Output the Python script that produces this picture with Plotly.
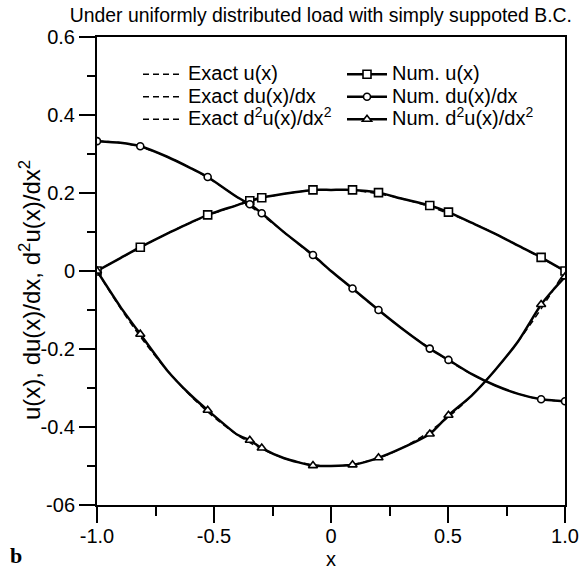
import plotly.graph_objects as go

# ---------------- data ----------------
# exact solution curves, sampled
x_exact = [-1.0, -0.9, -0.8, -0.7, -0.6, -0.5, -0.4, -0.3, -0.2, -0.1, 0.0,
           0.1, 0.2, 0.3, 0.4, 0.5, 0.6, 0.7, 0.8, 0.9, 1.0]
u_exact = [0.0, 0.033, 0.065, 0.096, 0.124, 0.148, 0.169, 0.186, 0.198, 0.206, 0.208,
           0.206, 0.198, 0.186, 0.169, 0.148, 0.124, 0.096, 0.065, 0.033, 0.0]
du_exact = [0.333, 0.329, 0.315, 0.293, 0.264, 0.229, 0.189, 0.146, 0.099, 0.050, 0.0,
            -0.050, -0.099, -0.146, -0.189, -0.229, -0.264, -0.293, -0.315, -0.329, -0.333]
d2u_exact = [0.0, -0.095, -0.180, -0.255, -0.320, -0.375, -0.420, -0.455, -0.480, -0.495, -0.500,
             -0.495, -0.480, -0.455, -0.420, -0.375, -0.320, -0.255, -0.180, -0.095, 0.0]

# numerical solution at the nodes (markers)
x_num = [-1.0, -0.815, -0.527, -0.347, -0.296, -0.077, 0.092, 0.203, 0.422, 0.502, 0.898, 1.0]
u_num = [0.0, 0.061, 0.144, 0.180, 0.188, 0.208, 0.208, 0.201, 0.168, 0.151, 0.035, 0.0]
du_num = [0.333, 0.320, 0.241, 0.171, 0.148, 0.041, -0.045, -0.100, -0.199, -0.228, -0.329, -0.334]
d2u_num = [0.0, -0.162, -0.357, -0.434, -0.454, -0.499, -0.497, -0.479, -0.418, -0.370, -0.086, -0.015]

# numerical curves as drawn (nodes plus intermediate points)
x_curve = [-1.0, -0.9, -0.815, -0.7, -0.6, -0.527, -0.4, -0.347, -0.296, -0.2, -0.077, 0.0,
           0.092, 0.203, 0.3, 0.422, 0.502, 0.6, 0.7, 0.8, 0.898, 0.95, 1.0]
u_curve = [0.0, 0.033, 0.061, 0.096, 0.124, 0.144, 0.169, 0.180, 0.188, 0.198, 0.208, 0.208,
           0.208, 0.201, 0.186, 0.168, 0.151, 0.124, 0.096, 0.065, 0.035, 0.017, 0.0]
du_curve = [0.333, 0.329, 0.320, 0.293, 0.264, 0.241, 0.189, 0.171, 0.148, 0.099, 0.041, 0.0,
            -0.045, -0.100, -0.146, -0.199, -0.228, -0.264, -0.293, -0.315, -0.329, -0.332, -0.334]
d2u_curve = [0.0, -0.092, -0.162, -0.255, -0.318, -0.357, -0.420, -0.434, -0.454, -0.480, -0.499, -0.500,
             -0.497, -0.479, -0.455, -0.418, -0.370, -0.320, -0.255, -0.180, -0.086, -0.048, -0.015]

y_tickvals = [0.6, 0.4, 0.2, 0.0, -0.2, -0.4, -0.6]
y_ticktext = ["0.6", "0.4", "0.2", "0", "-0.2", "-0.4", "-06"]
x_tickvals = [-1.0, -0.5, 0.0, 0.5, 1.0]
x_ticktext = ["-1.0", "-0.5", "0", "0.5", "1.0"]

title_text = "Under uniformly distributed load with simply suppoted B.C."
y_title = "u(x), du(x)/dx, d<sup>2</sup>u(x)/dx<sup>2</sup>"

# ---------------- figure ----------------
FONT = "Liberation Sans, Arial, Helvetica, sans-serif"
W, H = 579, 571
ML, MR, MT, MB = 97, 14, 37, 66


def lab(s):
    return '<span style="font-size:20px">' + s + '</span>'


fig = go.Figure()

exact_sets = [(u_exact, "Exact u(x)"), (du_exact, "Exact du(x)/dx"),
              (d2u_exact, "Exact d<sup>2</sup>u(x)/dx<sup>2</sup>")]
for ys, name in exact_sets:
    fig.add_trace(go.Scatter(
        x=x_exact, y=ys, mode="lines", name=lab(name), legend="legend",
        line=dict(color="black", width=1.5, dash="6px,4px", shape="spline"),
    ))

num_sets = [(u_curve, u_num, "Num. u(x)", "square", 8),
            (du_curve, du_num, "Num. du(x)/dx", "circle", 7),
            (d2u_curve, d2u_num, "Num. d<sup>2</sup>u(x)/dx<sup>2</sup>", "triangle-up", 8)]
for i, (yc, yn, name, sym, sz) in enumerate(num_sets):
    grp = "num%d" % i
    mk = dict(symbol=sym, size=sz, color="white", line=dict(width=1.6, color="black"))
    ln = dict(color="black", width=2.5)
    # solid curve
    fig.add_trace(go.Scatter(
        x=x_curve, y=yc, mode="lines", legend="legend2", legendgroup=grp,
        showlegend=False, line=dict(shape="spline", smoothing=0.6, **ln),
    ))
    # node markers
    fig.add_trace(go.Scatter(
        x=x_num, y=yn, mode="markers", legend="legend2", legendgroup=grp,
        showlegend=False, marker=mk,
    ))
    # legend entry (line + marker)
    fig.add_trace(go.Scatter(
        x=[None], y=[None], mode="lines+markers", name=lab(name), legend="legend2",
        legendgroup=grp, line=ln, marker=mk,
    ))

pw = W - ML - MR
ph = H - MT - MB


def px_x(p):
    return (p - ML) / pw


def px_y(p):
    return (H - MB - p) / ph


leg_common = dict(xanchor="left", yanchor="top", bgcolor="rgba(0,0,0,0)",
                  font=dict(size=15, family=FONT, color="black"),
                  itemwidth=40, tracegroupgap=0, borderwidth=0)

fig.update_layout(
    width=W, height=H,
    margin=dict(l=ML, r=MR, t=MT, b=MB, autoexpand=False),
    paper_bgcolor="white", plot_bgcolor="white",
    font=dict(family=FONT, color="black", size=20),
    title=dict(text=title_text, font=dict(size=19.4, family=FONT, color="black"),
               xref="container", x=572 / W, xanchor="right",
               yref="container", y=1 - 15 / H, yanchor="middle"),
    legend=dict(x=px_x(138), y=px_y(58), **leg_common),
    legend2=dict(x=px_x(342), y=px_y(58), **leg_common),
    xaxis=dict(range=[-1.0, 1.0], tickvals=x_tickvals, ticktext=x_ticktext,
               automargin=False,
               showgrid=False, zeroline=False, showline=True, linecolor="black",
               linewidth=2, mirror=True, ticks="outside", ticklen=16, tickwidth=2,
               tickcolor="black", tickfont=dict(size=20), ticklabelstandoff=-4,
               minor=dict(ticks="outside", dtick=0.25, tick0=0, ticklen=9,
                          tickwidth=2, tickcolor="black", showgrid=False),
               title=dict(text="x", font=dict(size=20), standoff=6)),
    yaxis=dict(range=[-0.6, 0.6], tickvals=y_tickvals, ticktext=y_ticktext,
               automargin=False,
               showgrid=False, zeroline=False, showline=True, linecolor="black",
               linewidth=2, mirror=True, ticks="outside", ticklen=16, tickwidth=2,
               tickcolor="black", tickfont=dict(size=20),
               minor=dict(ticks="outside", dtick=0.1, tick0=0, ticklen=8,
                          tickwidth=2, tickcolor="black", showgrid=False)),
    showlegend=True,
)

# y-axis title (placed as in the reference, slightly below the plot centre)
fig.add_annotation(text=y_title, textangle=-90, xref="paper", yref="paper",
                   x=px_x(30), y=px_y(290), xanchor="center", yanchor="middle",
                   showarrow=False, font=dict(family=FONT, size=24, color="black"))

fig.add_annotation(text="<b>b</b>", xref="paper", yref="paper",
                   x=px_x(16), y=px_y(555), xanchor="center", yanchor="middle",
                   showarrow=False,
                   font=dict(family="Liberation Serif, Times New Roman, serif", size=22, color="black"))

fig.write_html("out.html")
